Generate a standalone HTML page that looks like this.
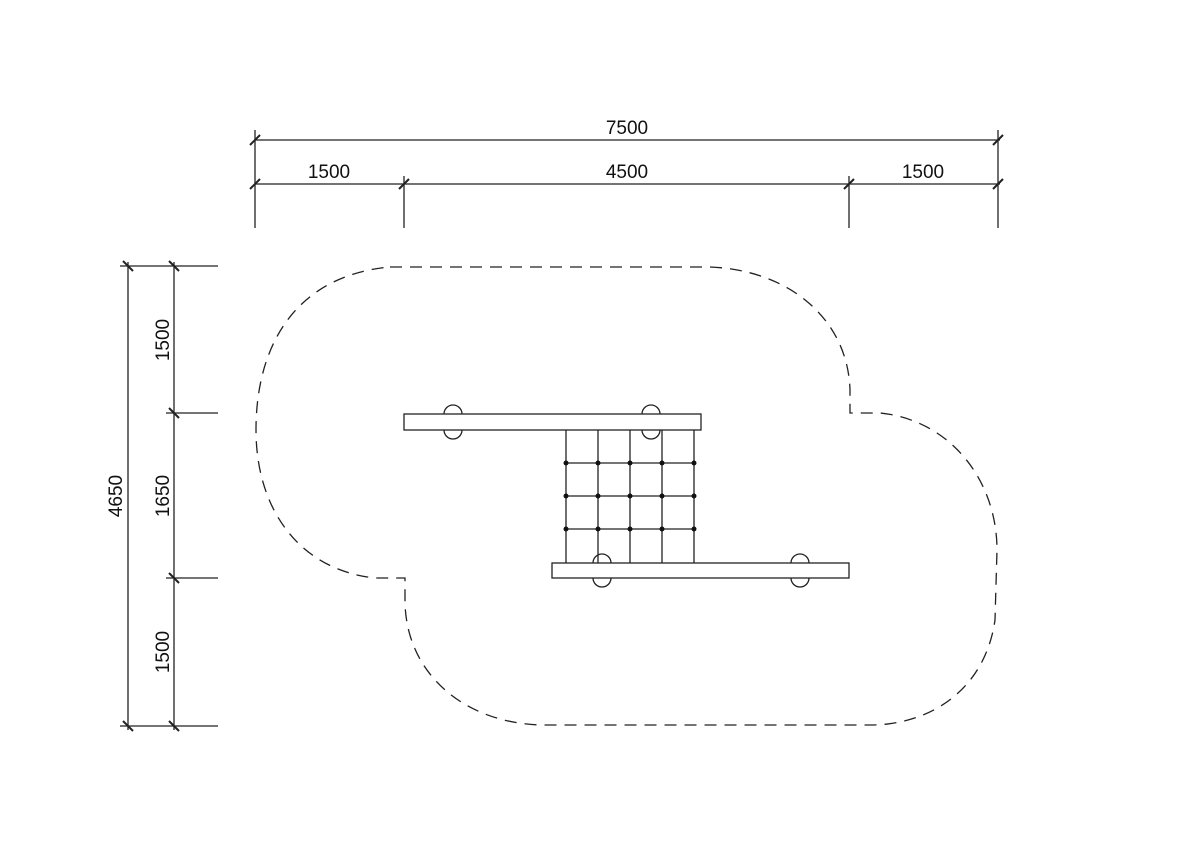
<!DOCTYPE html>
<html><head><style>body{margin:0;background:#fff}svg{display:block}text{font-family:"Liberation Sans",sans-serif;font-size:19px;fill:#111}</style></head><body>
<svg width="1200" height="863" viewBox="0 0 1200 863" xmlns="http://www.w3.org/2000/svg">
<g stroke="#222" stroke-width="1.3" fill="none">
<line x1="255" y1="140" x2="1000" y2="140"/>
<line x1="255" y1="184" x2="1000" y2="184"/>
<line x1="255" y1="130" x2="255" y2="228"/>
<line x1="404" y1="176" x2="404" y2="228"/>
<line x1="849" y1="176" x2="849" y2="228"/>
<line x1="998" y1="130" x2="998" y2="228"/>
<g stroke-width="2">
<line x1="250" y1="145" x2="260" y2="135"/><line x1="993" y1="145" x2="1003" y2="135"/>
<line x1="250" y1="189" x2="260" y2="179"/><line x1="399" y1="189" x2="409" y2="179"/>
<line x1="844" y1="189" x2="854" y2="179"/><line x1="993" y1="189" x2="1003" y2="179"/>
</g>
<line x1="128" y1="262" x2="128" y2="730"/>
<line x1="174" y1="262" x2="174" y2="730"/>
<line x1="120" y1="266" x2="218" y2="266"/>
<line x1="166" y1="413" x2="218" y2="413"/>
<line x1="166" y1="578" x2="218" y2="578"/>
<line x1="120" y1="726" x2="218" y2="726"/>
<g stroke-width="2">
<line x1="123" y1="261" x2="133" y2="271"/><line x1="169" y1="261" x2="179" y2="271"/>
<line x1="169" y1="408" x2="179" y2="418"/><line x1="169" y1="573" x2="179" y2="583"/>
<line x1="123" y1="721" x2="133" y2="731"/><line x1="169" y1="721" x2="179" y2="731"/>
</g>
<path stroke-dasharray="12,8" d="M390 267 L710 267 C790 270 848 320 850 390 L850 413 L880 413 C950 420 997 480 997 550 L995 620 C985 690 930 725 870 725 L540 725 C460 722 405 670 405 600 L405 578 L375 578 C300 570 256 510 256 430 C256 340 300 275 390 267 Z"/>
<path d="M444 414 A9 9 0 0 1 462 414 M444 430 A9 9 0 0 0 462 430 M642 414 A9 9 0 0 1 660 414 M642 430 A9 9 0 0 0 660 430"/>
<path d="M593 563 A9 9 0 0 1 611 563 M593 578 A9 9 0 0 0 611 578 M791 563 A9 9 0 0 1 809 563 M791 578 A9 9 0 0 0 809 578"/>
<rect x="404" y="414" width="297" height="16" fill="#fff"/>
<rect x="552" y="563" width="297" height="15" fill="#fff"/>
<line x1="566" y1="430" x2="566" y2="563"/><line x1="598" y1="430" x2="598" y2="563"/>
<line x1="630" y1="430" x2="630" y2="563"/><line x1="662" y1="430" x2="662" y2="563"/>
<line x1="694" y1="430" x2="694" y2="563"/>
<line x1="566" y1="463" x2="694" y2="463"/><line x1="566" y1="496" x2="694" y2="496"/><line x1="566" y1="529" x2="694" y2="529"/>
</g>
<g fill="#111">
<circle cx="566" cy="463" r="2.5"/><circle cx="598" cy="463" r="2.5"/><circle cx="630" cy="463" r="2.5"/><circle cx="662" cy="463" r="2.5"/><circle cx="694" cy="463" r="2.5"/>
<circle cx="566" cy="496" r="2.5"/><circle cx="598" cy="496" r="2.5"/><circle cx="630" cy="496" r="2.5"/><circle cx="662" cy="496" r="2.5"/><circle cx="694" cy="496" r="2.5"/>
<circle cx="566" cy="529" r="2.5"/><circle cx="598" cy="529" r="2.5"/><circle cx="630" cy="529" r="2.5"/><circle cx="662" cy="529" r="2.5"/><circle cx="694" cy="529" r="2.5"/>
</g>
<text x="627" y="134" text-anchor="middle">7500</text>
<text x="329" y="178" text-anchor="middle">1500</text>
<text x="627" y="178" text-anchor="middle">4500</text>
<text x="923" y="178" text-anchor="middle">1500</text>
<text transform="translate(122,496) rotate(-90)" text-anchor="middle">4650</text>
<text transform="translate(169,340) rotate(-90)" text-anchor="middle">1500</text>
<text transform="translate(169,496) rotate(-90)" text-anchor="middle">1650</text>
<text transform="translate(169,652) rotate(-90)" text-anchor="middle">1500</text>
</svg>
</body></html>
